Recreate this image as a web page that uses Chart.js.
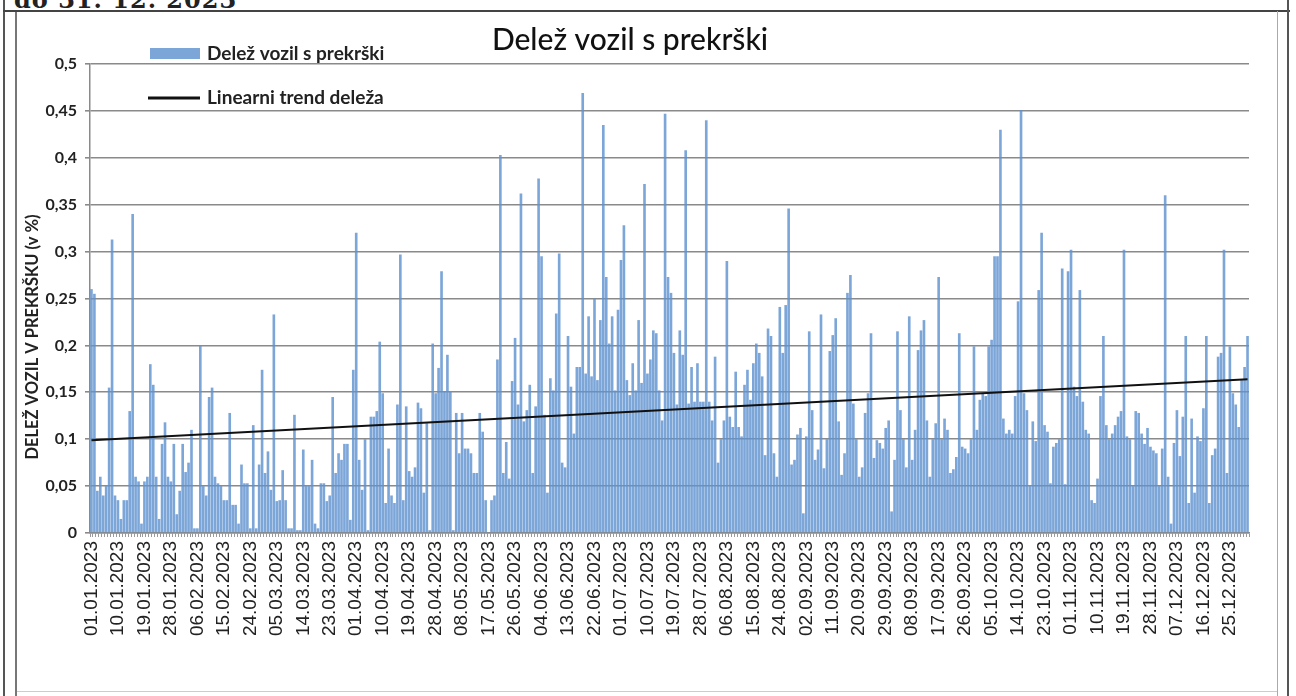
<!DOCTYPE html>
<html>
<head>
<meta charset="utf-8">
<script src="https://cdn.jsdelivr.net/npm/chart.js@4.4.1/dist/chart.umd.min.js"></script>
<style>
  html, body { margin: 0; padding: 0; background: #fff; }
  body { width: 1296px; height: 696px; position: relative; overflow: hidden; }
  #wrap { position: absolute; left: 0; top: 0; width: 1296px; height: 696px; }
  .ln { position: absolute; background: #555; }
  #head { position: absolute; left: 14px; top: -12px; font: bold 24px "DejaVu Serif", serif; line-height: 24px; color: #222; letter-spacing: 1px; white-space: nowrap; }
</style>
</head>
<body>
<div id="head">do 31. 12. 2023</div>
<div class="ln" style="left:3px;top:0;width:2px;height:696px"></div>
<div class="ln" style="left:15px;top:11px;width:2px;height:685px;background:#777"></div>
<div class="ln" style="left:3px;top:10px;width:1287px;height:2px;background:#444"></div>
<div class="ln" style="left:1277px;top:11px;width:1px;height:685px;background:#aaa"></div>
<div class="ln" style="left:1287px;top:0;width:2px;height:696px"></div>
<div class="ln" style="left:17px;top:691px;width:1260px;height:1px;background:#ccc"></div>
<div id="wrap"><canvas id="c"></canvas></div>
<script>
// daily share of vehicles with offences, one array per month as listed in the source table
// (1 May is missing from the source, and September appears twice)
const jan = [0.26,0.255,0.045,0.06,0.04,0.05,0.155,0.313,0.04,0.035,0.015,0.035,0.035,0.13,0.34,0.06,0.055,0.01,0.055,0.06,0.18,0.158,0.06,0.015,0.095,0.118,0.06,0.055,0.095,0.02,0.045];
const feb = [0.095,0.065,0.075,0.11,0.005,0.005,0.2,0.05,0.04,0.145,0.155,0.06,0.053,0.05,0.035,0.035,0.128,0.03,0.03,0.01,0.073,0.053,0.053,0.005,0.115,0.005,0.073,0.174];
const mar = [0.064,0.087,0.046,0.233,0.034,0.035,0.067,0.035,0.005,0.005,0.126,0.003,0.003,0.089,0.05,0.05,0.078,0.01,0.005,0.053,0.053,0.034,0.04,0.145,0.064,0.085,0.078,0.095,0.095,0.014,0.174];
const apr = [0.32,0.078,0.046,0.1,0.003,0.124,0.124,0.13,0.204,0.149,0.032,0.09,0.04,0.032,0.137,0.297,0.035,0.135,0.066,0.06,0.07,0.139,0.133,0.043,0.117,0.003,0.202,0.149,0.176,0.279];
const may = [0.151,0.19,0.151,0.003,0.128,0.085,0.128,0.09,0.09,0.085,0.064,0.064,0.128,0.108,0.035,0.0,0.035,0.04,0.185,0.403,0.064,0.097,0.058,0.162,0.208,0.137,0.362,0.119,0.131,0.158];
const jun = [0.064,0.135,0.378,0.295,0.126,0.043,0.165,0.152,0.234,0.298,0.075,0.07,0.21,0.156,0.106,0.177,0.177,0.469,0.17,0.231,0.167,0.25,0.163,0.227,0.435,0.273,0.202,0.231,0.152,0.238];
const jul = [0.291,0.328,0.163,0.147,0.181,0.152,0.227,0.16,0.372,0.17,0.185,0.216,0.213,0.152,0.12,0.447,0.273,0.256,0.192,0.137,0.216,0.19,0.408,0.138,0.177,0.14,0.181,0.14,0.14,0.44,0.14];
const aug = [0.12,0.188,0.075,0.1,0.12,0.29,0.124,0.113,0.172,0.113,0.103,0.158,0.174,0.142,0.181,0.202,0.192,0.167,0.083,0.218,0.21,0.085,0.06,0.241,0.192,0.243,0.346,0.073,0.078,0.105,0.112];
const sepA = [0.021,0.103,0.215,0.131,0.078,0.089,0.233,0.069,0.1,0.194,0.211,0.229,0.119,0.062,0.085,0.256,0.275,0.138,0.1,0.06,0.07,0.128,0.149,0.213,0.08,0.099,0.096,0.09,0.112,0.12];
const sepB = [0.023,0.078,0.215,0.131,0.1,0.07,0.231,0.078,0.11,0.195,0.216,0.227,0.12,0.06,0.1,0.117,0.273,0.1,0.122,0.11,0.064,0.068,0.081,0.213,0.092,0.09,0.085,0.1,0.199,0.11];
const oct = [0.142,0.149,0.146,0.199,0.206,0.295,0.295,0.43,0.122,0.106,0.11,0.106,0.146,0.247,0.451,0.149,0.131,0.05,0.119,0.098,0.259,0.32,0.115,0.108,0.053,0.092,0.096,0.1,0.282,0.052,0.279];
const nov = [0.302,0.156,0.146,0.259,0.14,0.11,0.106,0.035,0.032,0.058,0.146,0.21,0.115,0.1,0.106,0.115,0.124,0.13,0.302,0.103,0.1,0.05,0.13,0.128,0.106,0.095,0.112,0.092,0.088,0.085];
const dec = [0.05,0.09,0.36,0.06,0.01,0.096,0.131,0.082,0.124,0.21,0.032,0.122,0.043,0.103,0.098,0.133,0.21,0.032,0.083,0.09,0.188,0.192,0.302,0.064,0.199,0.149,0.137,0.113,0.163,0.177,0.21];

// month, first day in the table, and that month's values
const months = [
  ["01", 1, jan], ["02", 1, feb], ["03", 1, mar], ["04", 1, apr], ["05", 2, may],
  ["06", 1, jun], ["07", 1, jul], ["08", 1, aug], ["09", 1, sepA], ["09", 1, sepB],
  ["10", 1, oct], ["11", 1, nov], ["12", 1, dec]
];

const trendStart = 0.099;
const trendEnd = 0.164;
const labelEvery = 9;

const chartTitle = "Delež vozil s prekrški";
const seriesNames = ["Delež vozil s prekrški", "Linearni trend deleža"];
const yTitle = "DELEŽ VOZIL V PREKRŠKU (v %)";

const labels = [];
const shares = [];
months.forEach(([mm, first, vals]) => {
  vals.forEach((v, k) => {
    labels.push(String(first + k).padStart(2, "0") + "." + mm + ".2023");
    shares.push(v);
  });
});
const trend = labels.map((_, i) => i === 0 ? trendStart : (i === labels.length - 1 ? trendEnd : null));

const barColor = "rgba(96,146,208,0.82)";

// title, legend and y-axis title sit where the original Excel chart put them
const overlay = {
  id: "overlay",
  afterDraw(chart) {
    const ctx = chart.ctx;
    ctx.save();
    ctx.fillStyle = "#111";
    ctx.textBaseline = "middle";
    ctx.textAlign = "center";
    ctx.font = "500 30px Lato";
    ctx.fillText(chartTitle, 630, 40);

    ctx.save();
    ctx.translate(33, 337);
    ctx.rotate(-Math.PI / 2);
    ctx.fillStyle = "#222";
    ctx.font = "bold 16.5px Lato";
    ctx.fillText(yTitle, 0, 0);
    ctx.restore();

    ctx.textAlign = "left";
    ctx.fillStyle = barColor;
    ctx.fillRect(150, 48, 50, 11);
    ctx.strokeStyle = "#111";
    ctx.lineWidth = 3;
    ctx.beginPath();
    ctx.moveTo(148, 98);
    ctx.lineTo(200, 98);
    ctx.stroke();
    ctx.fillStyle = "#222";
    ctx.font = "bold 19px Lato";
    ctx.fillText(seriesNames[0], 207, 54);
    ctx.fillText(seriesNames[1], 207, 98);
    ctx.restore();
  }
};

new Chart(document.getElementById("c"), {
  data: {
    labels: labels,
    datasets: [
      {
        type: "line",
        label: seriesNames[1],
        data: trend,
        borderColor: "#111",
        borderWidth: 2,
        pointRadius: 0,
        spanGaps: true,
        order: 0
      },
      {
        type: "bar",
        label: seriesNames[0],
        data: shares,
        backgroundColor: barColor,
        borderWidth: 0,
        categoryPercentage: 1,
        barPercentage: 0.9,
        order: 1
      }
    ]
  },
  options: {
    responsive: true,
    maintainAspectRatio: false,
    animation: false,
    layout: { padding: { left: 22, right: 47, top: 64, bottom: 0 } },
    plugins: {
      legend: { display: false },
      tooltip: { enabled: false }
    },
    scales: {
      x: {
        grid: { drawOnChartArea: false, color: "#9a9a9a", tickLength: 4 },
        border: { color: "#8a8a8a", width: 1.5 },
        ticks: {
          autoSkip: false,
          minRotation: 90,
          maxRotation: 90,
          padding: 4,
          color: "#222",
          font: { family: "Liberation Sans", size: 19 },
          callback: (v, i) => (i % labelEvery === 0 ? labels[i] : "")
        },
        afterFit: (s) => { s.height = 163; }
      },
      y: {
        min: 0,
        max: 0.5,
        ticks: {
          stepSize: 0.05,
          padding: 8,
          color: "#222",
          font: { family: "Lato", size: 16, weight: "bold" },
          callback: (v) => String(Number(v.toFixed(2))).replace(".", ",")
        },
        grid: { color: "#8a8a8a", lineWidth: 1.6, tickLength: 5 },
        border: { color: "#8a8a8a", width: 1.5 },
        afterFit: (s) => { s.width = 68; }
      }
    }
  },
  plugins: [overlay]
});
</script>
</body>
</html>
